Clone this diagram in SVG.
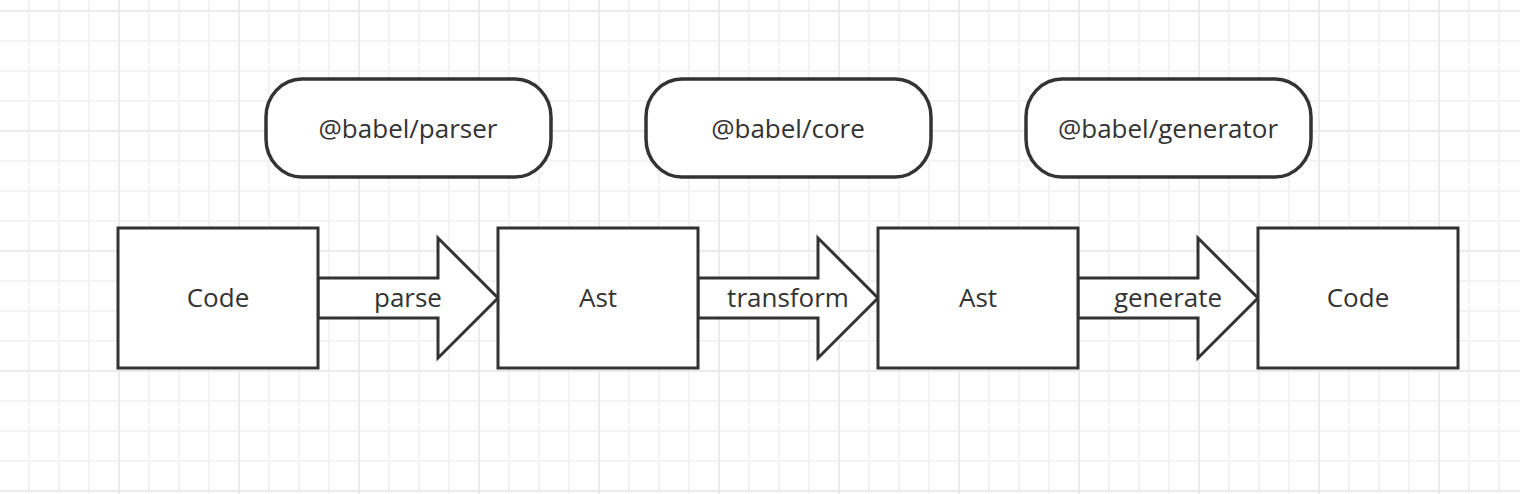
<svg xmlns="http://www.w3.org/2000/svg" width="1520" height="494" viewBox="0 0 1520 494">
<style>
.minor{stroke:#f3f3f3;stroke-width:2;fill:none}
.major{stroke:#ebebeb;stroke-width:2;fill:none}
.shape{fill:#ffffff;stroke:#333333;stroke-width:3;stroke-linejoin:miter}
.pill{fill:#ffffff;stroke:#333333;stroke-width:3.5}
text{font-family:"Open Sans","Noto Sans",sans-serif;font-size:26px;fill:#333333;text-anchor:middle}
</style>
<rect width="1520" height="494" fill="#ffffff"/>
<g id="grid">
<path class="minor" d="M29,0V494M59,0V494M89,0V494M149,0V494M179,0V494M209,0V494M269,0V494M299,0V494M329,0V494M389,0V494M419,0V494M449,0V494M509,0V494M539,0V494M569,0V494M629,0V494M659,0V494M689,0V494M749,0V494M779,0V494M809,0V494M869,0V494M899,0V494M929,0V494M989,0V494M1019,0V494M1049,0V494M1109,0V494M1139,0V494M1169,0V494M1229,0V494M1259,0V494M1289,0V494M1349,0V494M1379,0V494M1409,0V494M1469,0V494M1499,0V494M0,41H1520M0,71H1520M0,101H1520M0,161H1520M0,191H1520M0,221H1520M0,281H1520M0,311H1520M0,341H1520M0,401H1520M0,431H1520M0,461H1520"/>
<path class="major" d="M119,0V494M239,0V494M359,0V494M479,0V494M599,0V494M719,0V494M839,0V494M959,0V494M1079,0V494M1199,0V494M1319,0V494M1439,0V494M0,11H1520M0,131H1520M0,251H1520M0,371H1520M0,491H1520"/>
</g>
<g id="connectors">
<g id="arrow-parse">
<path class="shape" d="M318,278H438V238L498,298L438,358V318H318Z"/>
<text x="408" y="307">parse</text>
</g>
<g id="arrow-transform">
<path class="shape" d="M698,278H818V238L878,298L818,358V318H698Z"/>
<text x="788" y="307">transform</text>
</g>
<g id="arrow-generate">
<path class="shape" d="M1078,278H1198V238L1258,298L1198,358V318H1078Z"/>
<text x="1168" y="307">generate</text>
</g>
</g>
<g id="node-code1">
<rect class="shape" x="118" y="228" width="200" height="140"/>
<text x="218" y="307">Code</text>
</g>
<g id="node-ast1">
<rect class="shape" x="498" y="228" width="200" height="140"/>
<text x="598" y="307">Ast</text>
</g>
<g id="node-ast2">
<rect class="shape" x="878" y="228" width="200" height="140"/>
<text x="978" y="307">Ast</text>
</g>
<g id="node-code2">
<rect class="shape" x="1258" y="228" width="200" height="140"/>
<text x="1358" y="307">Code</text>
</g>
<g id="node-parser">
<rect class="pill" x="266" y="79" width="285" height="98" rx="36" ry="38"/>
<text x="408" y="138">@babel/parser</text>
</g>
<g id="node-core">
<rect class="pill" x="646" y="79" width="285" height="98" rx="36" ry="38"/>
<text x="788" y="138">@babel/core</text>
</g>
<g id="node-generator">
<rect class="pill" x="1026" y="79" width="285" height="98" rx="36" ry="38"/>
<text x="1168" y="138">@babel/generator</text>
</g>
</svg>
